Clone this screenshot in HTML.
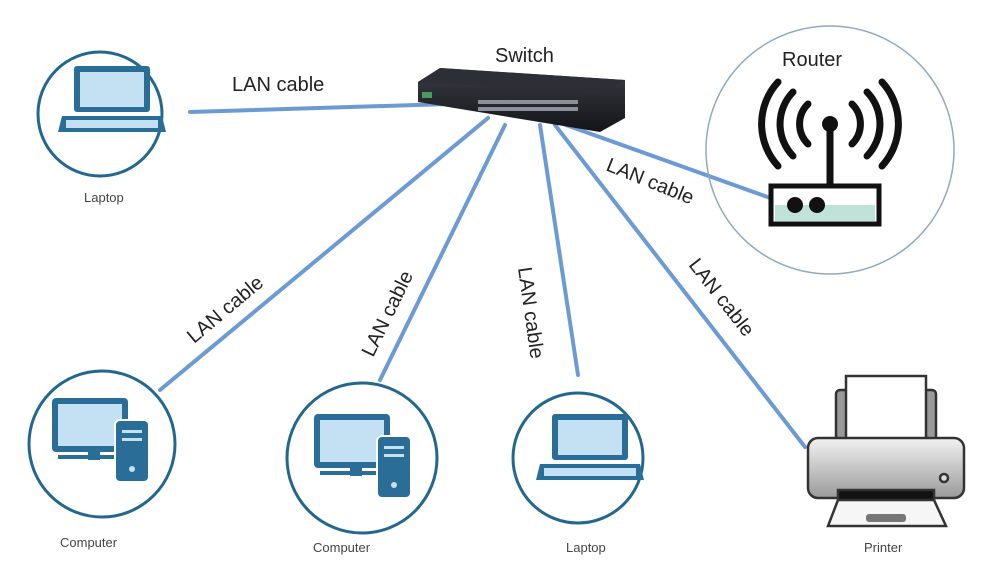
<!DOCTYPE html>
<html><head><meta charset="utf-8"><style>
html,body{margin:0;padding:0;background:#fff}
svg{display:block}
text{font-family:"Liberation Sans",sans-serif}
</style></head><body>
<svg width="1004" height="568" viewBox="0 0 1004 568" xmlns="http://www.w3.org/2000/svg">
<defs>
<linearGradient id="sw" x1="0" y1="0" x2="0" y2="1"><stop offset="0" stop-color="#3a3d44"/><stop offset="1" stop-color="#121418"/></linearGradient>
<linearGradient id="pr" x1="0" y1="0" x2="0" y2="1"><stop offset="0" stop-color="#f2f2f2"/><stop offset="1" stop-color="#9a9a9a"/></linearGradient>
</defs>
<!-- cables -->
<g stroke="#6b9bd2" stroke-width="4" fill="none" stroke-linecap="round">
<line x1="190" y1="112" x2="480" y2="103"/>
<line x1="160" y1="390" x2="488" y2="118"/>
<line x1="380" y1="380" x2="505" y2="125"/>
<line x1="578" y1="375" x2="540" y2="125"/>
<line x1="805" y1="447" x2="555" y2="125"/>
<line x1="776" y1="200" x2="566" y2="125"/>
</g>
<!-- switch -->
<polygon points="418,82 440,68 625,80 625,118 600,132 418,102" fill="url(#sw)"/>
<polygon points="418,82 440,68 625,80 600,93" fill="#2c2f36"/>
<rect x="422" y="92" width="10" height="6" fill="#4c9a5a"/>
<g fill="#8a8f99">
<rect x="478" y="100" width="100" height="4"/>
<rect x="478" y="107" width="100" height="4"/>
</g>
<!-- labels -->
<text x="495" y="62" font-size="20" fill="#222">Switch</text>
<text x="782" y="66" font-size="20" fill="#222">Router</text>
<text x="232" y="91" font-size="20" fill="#222">LAN cable</text>
<text font-size="20" fill="#222" transform="translate(194,344) rotate(-40)">LAN cable</text>
<text font-size="20" fill="#222" transform="translate(373,358) rotate(-64)">LAN cable</text>
<text font-size="20" fill="#222" transform="translate(518,268) rotate(82)">LAN cable</text>
<text font-size="20" fill="#222" transform="translate(688,265) rotate(52)">LAN cable</text>
<text font-size="20" fill="#222" transform="translate(605,170) rotate(22)">LAN cable</text>
<g font-size="13" fill="#444">
<text x="84" y="202">Laptop</text>
<text x="60" y="547">Computer</text>
<text x="313" y="552">Computer</text>
<text x="566" y="552">Laptop</text>
<text x="864" y="552">Printer</text>
</g>
<!-- circles -->
<g fill="none" stroke="#23678f" stroke-width="3">
<circle cx="100" cy="114" r="62"/>
<circle cx="102" cy="444" r="73"/>
<circle cx="362" cy="458" r="75"/>
<circle cx="578" cy="458" r="65"/>
</g>
<circle cx="830" cy="150" r="124" fill="none" stroke="#8fa9bf" stroke-width="1.5"/>
<!-- laptop 1 -->
<g>
<rect x="74" y="66" width="76" height="46" fill="#2a6d96" rx="3"/>
<rect x="80" y="72" width="64" height="35" fill="#c4e1f3"/>
<polygon points="62,116 162,116 166,132 58,132" fill="#2a6d96"/>
<rect x="66" y="120" width="92" height="8" fill="#c4e1f3"/>
</g>
<!-- computer 1 -->
<g>
<rect x="52" y="398" width="76" height="54" rx="4" fill="#2a6d96"/>
<rect x="58" y="404" width="64" height="42" fill="#c4e1f3"/>
<rect x="88" y="452" width="12" height="8" fill="#2a6d96"/>
<rect x="58" y="455" width="64" height="4" fill="#2a6d96"/>
<rect x="115" y="420" width="34" height="62" rx="5" fill="#2a6d96" stroke="#fff" stroke-width="2"/>
<rect x="122" y="430" width="20" height="3" fill="#c4e1f3"/>
<rect x="122" y="438" width="20" height="3" fill="#c4e1f3"/>
<circle cx="132" cy="469" r="3" fill="#c4e1f3"/>
</g>
<!-- computer 2 -->
<g transform="translate(262,16)">
<rect x="52" y="398" width="76" height="54" rx="4" fill="#2a6d96"/>
<rect x="58" y="404" width="64" height="42" fill="#c4e1f3"/>
<rect x="88" y="452" width="12" height="8" fill="#2a6d96"/>
<rect x="58" y="455" width="64" height="4" fill="#2a6d96"/>
<rect x="115" y="420" width="34" height="62" rx="5" fill="#2a6d96" stroke="#fff" stroke-width="2"/>
<rect x="122" y="430" width="20" height="3" fill="#c4e1f3"/>
<rect x="122" y="438" width="20" height="3" fill="#c4e1f3"/>
<circle cx="132" cy="469" r="3" fill="#c4e1f3"/>
</g>
<!-- laptop 2 -->
<g transform="translate(478,348)">
<rect x="74" y="66" width="76" height="46" fill="#2a6d96" rx="3"/>
<rect x="80" y="72" width="64" height="35" fill="#c4e1f3"/>
<polygon points="62,116 162,116 166,132 58,132" fill="#2a6d96"/>
<rect x="66" y="120" width="92" height="8" fill="#c4e1f3"/>
</g>
<!-- router -->
<g fill="none" stroke="#111" stroke-width="7" stroke-linecap="round">
<path d="M808,104 A28,28 0 0 0 808,144"/>
<path d="M852,104 A28,28 0 0 1 852,144"/>
<path d="M793,92 A46,46 0 0 0 793,156"/>
<path d="M867,92 A46,46 0 0 1 867,156"/>
<path d="M778,82 A62,62 0 0 0 778,166"/>
<path d="M882,82 A62,62 0 0 1 882,166"/>
<line x1="830" y1="126" x2="830" y2="184"/>
</g>
<circle cx="830" cy="124" r="8" fill="#111"/>
<rect x="771" y="186" width="108" height="38" fill="#fff" stroke="#111" stroke-width="5"/>
<rect x="775" y="205" width="100" height="16" fill="#bfe3d8"/>
<circle cx="795" cy="205" r="8" fill="#111"/>
<circle cx="817" cy="205" r="8" fill="#111"/>
<!-- printer -->
<g stroke="#333" stroke-width="2.5">
<rect x="836" y="390" width="100" height="50" rx="4" fill="#9a9a9a"/>
<rect x="846" y="376" width="80" height="70" fill="#fff"/>
<rect x="808" y="438" width="156" height="60" rx="10" fill="url(#pr)"/>
<rect x="838" y="490" width="96" height="12" fill="#111"/>
<polygon points="838,500 934,500 946,526 828,526" fill="#f6f6f6"/>
<circle cx="944" cy="478" r="4" fill="#ddd"/>
</g>
<rect x="866" y="514" width="40" height="8" rx="3" fill="#777"/>
</svg>
</body></html>
